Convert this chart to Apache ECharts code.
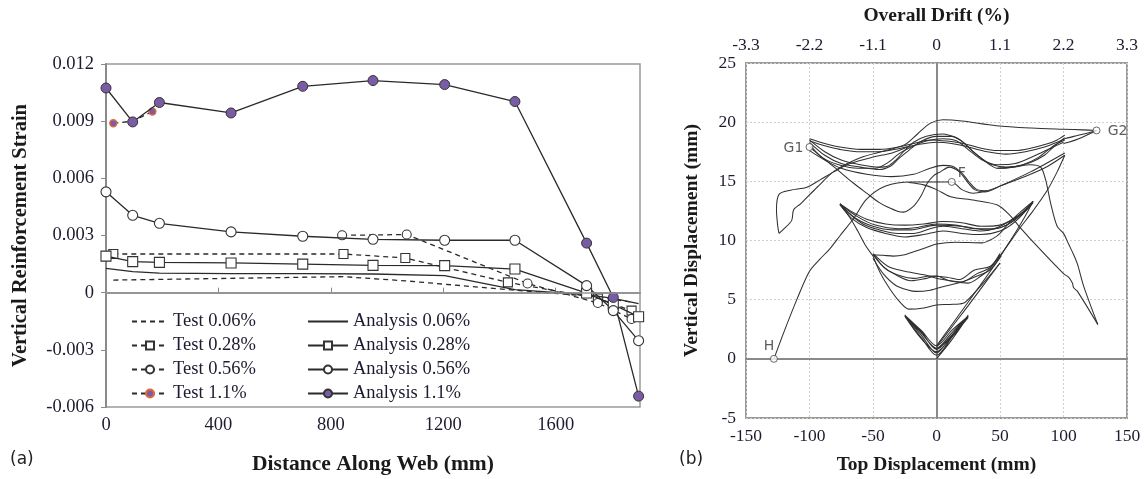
<!DOCTYPE html>
<html>
<head>
<meta charset="utf-8">
<script src="https://cdn.jsdelivr.net/npm/echarts@6/dist/echarts.min.js"></script>
<style>
  html, body { margin: 0; padding: 0; background: #fff; }
  #chart { width: 1148px; height: 479px; }
</style>
</head>
<body>
<div id="chart"></div>
<script>
// ---------- (a) strain along the web ----------
const gaugeDistance = [0, 95, 190, 445, 700, 950, 1205, 1455, 1710, 1805, 1895];
const analysis006 = [0.00127, 0.00110, 0.00103, 0.00100, 0.00100, 0.00098, 0.00089, 0.00016, -0.00010, -0.00030, -0.00058];
const analysis028 = [0.00192, 0.00163, 0.00159, 0.00156, 0.00150, 0.00143, 0.00142, 0.00124, -0.00002, -0.00063, -0.00126];
const analysis056 = [0.00529, 0.00406, 0.00364, 0.00319, 0.00296, 0.00280, 0.00275, 0.00275, 0.00037, -0.00094, -0.00252];
const analysis110 = [0.01074, 0.00896, 0.00998, 0.00943, 0.01083, 0.01113, 0.01092, 0.01003, 0.00260, -0.00025, -0.00543];

const testDistance006 = [26, 845, 1065, 1430, 1750, 1870];
const test006 = [0.00066, 0.00084, 0.00062, 0.00016, -0.00022, -0.00050];
const testDistance028 = [26, 845, 1065, 1430, 1750, 1870];
const test028 = [0.00203, 0.00203, 0.00182, 0.00054, -0.00030, -0.00094];
const testDistance056 = [840, 1070, 1500, 1750, 1870];
const test056 = [0.00301, 0.00305, 0.00048, -0.00054, -0.00138];
const testDistance110 = [26, 95, 165];
const test110 = [0.00889, 0.00900, 0.00951];

// ---------- (b) vertical vs top displacement (mm) ----------
const cycles25 = [[0,0],[12,1.6],[25,3.6],[12,2.0],[0,0.5],[-12,2.0],[-25,3.7],[-12,2.2],[0,0.9],[12,2.2],[25,3.6],[12,2.4],[0,1.1],[-12,2.4],[-25,3.7],[-12,2.3],[0,0.8],[12,2.0],[25,3.5],[12,1.8],[0,0.3],[-12,1.8],[-25,3.6],[-12,1.7],[0,0.6],[12,1.9],[25,3.7]];
const rise50a = [[0,1.0],[25,4.5],[50,8.1]];
const rise50b = [[0,1.1],[25,4.8],[51,8.7]];
const loop50a = [[-50,8.7],[-44,7.2],[-36,5.8],[-28,4.7],[-22,4.2],[-10,4.3],[0,4.55],[10,4.6],[21,4.7],[30,5.6],[40,6.8],[50,8.1]];
const loop50b = [[-50,8.5],[-42,7.2],[-32,6.2],[-22,5.8],[-16,5.7],[-5,5.8],[5,6.1],[20,6.5],[32,7.0],[42,7.5],[50,8.6]];
const loop50c = [[-50,8.8],[-42,7.8],[-32,7.1],[-20,6.6],[-8,6.8],[0,7.0],[10,6.6],[25,6.4],[35,7.0],[42,7.6],[50,8.8]];
const loop50d = [[-50,8.9],[-40,7.6],[-28,7.0],[-18,6.8],[-5,7.0],[8,6.9],[18,6.7],[30,7.5],[42,7.8],[50,8.7]];
const loop50e = [[-49,8.8],[-38,7.8],[-25,7.4],[-10,7.1],[5,6.7],[20,6.5],[32,7.2],[42,7.7],[50,8.9]];
const upper50 = [[-50,8.8],[-42,8.75],[-34,8.68],[-25,8.8],[-18,9.05],[-8,9.4],[0,9.7],[15,9.85],[36,9.8],[45,10.2],[50,10.6],[58,11.6],[66,12.4],[76,13.3]];
const toLensLeft = [[-50,8.7],[-56,9.6],[-62,10.8],[-68,11.9],[-76,13.1]];
const toLensRight = [[50,8.6],[57,9.8],[64,11.0],[70,12.1],[76,13.3]];
const lensA = [[-76,13.1],[-68,12.2],[-58,11.4],[-45,10.9],[-30,10.6],[-18,10.6],[-5,11.0],[5,11.2],[20,11.0],[35,10.8],[48,11.1],[60,11.8],[68,12.4],[76,13.3]];
const lensB = [[-76,13.0],[-66,11.8],[-55,11.1],[-40,10.6],[-25,10.3],[-10,10.5],[5,10.8],[20,10.6],[35,10.5],[50,10.8],[62,11.6],[76,13.2]];
const lensC = [[-76,13.1],[-66,12.4],[-55,11.8],[-40,11.4],[-25,11.3],[-10,11.4],[5,11.6],[20,11.5],[35,11.2],[50,11.3],[62,11.9],[70,12.5],[76,13.3]];
const lensD = [[-75,13.0],[-62,12.0],[-48,11.3],[-30,11.0],[-15,11.1],[0,11.4],[15,11.3],[30,11.0],[45,11.0],[60,11.6],[76,13.2]];
const lensE = [[-76,13.1],[-64,11.9],[-50,11.2],[-35,10.9],[-20,10.9],[0,11.3],[20,11.2],[40,10.9],[55,11.3],[66,12.2],[76,13.3]];
const loop100a = [[-100,18.6],[-88,18.2],[-76,17.9],[-60,17.7],[-45,17.7],[-30,17.9],[-18,18.2],[-5,18.5],[8,18.4],[21,18.2],[35,17.8],[48,17.6],[62,17.6],[74,17.8],[88,18.2],[95,18.5],[101,18.9]];
const loop100b = [[-100,18.4],[-88,18.0],[-76,17.7],[-60,17.5],[-45,17.5],[-28,17.8],[-15,18.1],[0,18.3],[12,18.2],[25,17.9],[40,17.5],[55,17.3],[70,17.5],[85,17.9],[95,18.3],[101,18.6]];
const loop100c = [[-100,18.5],[-88,17.5],[-75,16.8],[-60,16.4],[-45,16.2],[-38,16.3],[-32,16.8],[-26,17.5],[-18,18.3],[-8,18.8],[5,19.0],[15,18.7],[22,18.2],[30,17.4],[37,16.8],[42,16.4],[48,16.1],[60,16.2],[74,16.6],[85,17.2],[92,17.9],[101,18.7]];
const loop100d = [[-100,18.3],[-88,17.2],[-75,16.5],[-60,16.2],[-45,16.0],[-36,16.3],[-30,16.9],[-22,17.6],[-12,18.4],[0,18.8],[12,18.8],[20,18.4],[28,17.6],[36,16.9],[44,16.4],[55,16.2],[68,16.4],[80,17.0],[92,18.0],[101,18.5]];
const loop100e = [[-99,18.0],[-90,17.0],[-77,16.4],[-62,16.1],[-48,16.1],[-38,16.6],[-30,17.3],[-20,17.9],[-8,18.4],[5,18.6],[16,18.4],[26,17.6],[36,16.8],[48,16.4],[62,16.5],[76,17.1],[90,17.8],[100,18.3]];
const pathG1 = [[-100,17.9],[-92,17.2],[-84,16.5],[-76,15.8],[-66,14.9],[-55,14.0],[-45,13.2],[-39,12.85],[-30,12.45],[-26,12.4],[-18,12.9],[-12,13.8],[-7.5,14.8],[-2,15.5],[3,15.8],[10,16.2],[18,15.8],[24,15.0],[30,14.3],[38,14.1],[50,14.6],[74,15.8],[101,17.4]];
const pathMid = [[-100,17.6],[-88,16.8],[-75,16.1],[-55,15.6],[-35,15.4],[-18,15.6],[-5,16.1],[5,16.35],[12,16.3],[20,15.7],[26,14.9],[32,14.3],[40,14.2]];
const pathH = [[-128,0],[-120,2.3],[-110,5.0],[-100,7.4],[-92,8.4],[-84,9.3],[-76,10.4],[-65,11.9],[-55,13.5],[-40,14.6],[-20,14.95],[0,14.95],[12,14.95],[20,14.3],[29,14.0],[40,14.2],[55,14.8],[74,15.6],[88,16.3],[101,17.2]];
const pathA = [[-22,14.9],[-10,14.7],[0,14.3],[11,13.7],[30,13.4],[48,13.0],[58,12.1],[65,11.2],[82,9.2],[100,7.2],[104,6.9],[107,6.4],[108,6.0],[111,5.7],[127,2.9]];
const pathSteep = [[48,16.1],[60,16.2],[74,16.4],[82,16.2],[86,15.1],[90,13.1],[95,11.2],[100,10.6],[104,9.7],[108,8.8],[111,8.0],[116,6.1],[127,2.9]];
const pathRise = [[50,8.7],[60,10.2],[66,11.1],[76,12.5],[87,14.2],[95,15.8],[101,17.2]];
const pathTop = [[-124,10.6],[-120,11.0],[-114,11.7],[-112.5,12.6],[-107,13.1],[-94,14.5],[-80,15.9],[-60,17.0],[-40,17.6],[-25,18.1],[-15,19.0],[-5,19.9],[5,20.2],[20,20.1],[47,19.7],[75,19.5],[100,19.4],[115,19.35],[126,19.3]];
const pathHook = [[-23,17.9],[-35,17.4],[-50,17.05],[-68,16.5],[-81,15.8],[-92,15.1],[-102,14.5],[-115,14.25],[-124,13.9],[-126,12.6],[-125,11.2],[-124,10.6]];
const backG2a = [[126,19.3],[116,19.0],[108,18.8],[101,18.6]];
const backG2b = [[126,19.3],[112,18.6],[104,18.3],[100,18.2]];
const namedPoints = [
  { name: 'G1', value: [-100, 17.9], offset: [-16, 1] },
  { name: 'G2', value: [126, 19.3], offset: [21, 1] },
  { name: 'F', value: [12, 14.95], offset: [10, -9] },
  { name: 'H', value: [-128, 0], offset: [-5, -12] }
];

const serif = "'Liberation Serif', 'Times New Roman', serif";
const sans = "'DejaVu Sans', 'Noto Sans', sans-serif";
const labelColor = '#1c1c30';
const purple = '#7a5ca6';

function zip(xs, ys) { return xs.map((x, i) => [x, ys[i]]); }

function strainSeries(name, xs, ys, dashed, symbol, size, itemStyle) {
  return {
    name, type: 'line', xAxisIndex: 0, yAxisIndex: 0,
    data: zip(xs, ys),
    symbol: symbol || 'none', symbolSize: size || 0, showSymbol: !!symbol,
    lineStyle: { color: '#2a2a2a', width: 1.3, type: dashed ? [5, 4] : 'solid' },
    itemStyle: itemStyle || { color: '#fff', borderColor: '#333', borderWidth: 1.1 },
    emphasis: { disabled: true }, animation: false, z: dashed ? 3 : 4
  };
}

const strainSeriesList = [
  strainSeries('Test 0.06%', testDistance006, test006, true),
  strainSeries('Test 0.28%', testDistance028, test028, true, 'rect', 9),
  strainSeries('Test 0.56%', testDistance056, test056, true, 'circle', 9),
  strainSeries('Test 1.1%', testDistance110, test110, true, 'circle', 7,
    { color: purple, borderColor: '#e06a3c', borderWidth: 1.4 }),
  Object.assign(strainSeries('Analysis 0.06%', gaugeDistance, analysis006, false), {
    markLine: {
      silent: true, symbol: 'none', label: { show: false }, animation: false,
      lineStyle: { color: '#999', width: 1.5, type: 'solid' },
      data: [{ yAxis: 0 }]
    }
  }),
  strainSeries('Analysis 0.28%', gaugeDistance, analysis028, false, 'rect', 10),
  strainSeries('Analysis 0.56%', gaugeDistance, analysis056, false, 'circle', 10),
  strainSeries('Analysis 1.1%', gaugeDistance, analysis110, false, 'circle', 10,
    { color: purple, borderColor: '#333', borderWidth: 1 })
];

const hysteresis = [cycles25, rise50a, rise50b, loop50a, loop50b, loop50c, loop50d, loop50e, upper50,
  toLensLeft, toLensRight, lensA, lensB, lensC, lensD, lensE,
  loop100a, loop100b, loop100c, loop100d, loop100e,
  pathG1, pathMid, pathH, pathA, pathSteep, pathRise, pathTop, pathHook, backG2a, backG2b];

const hysteresisSeries = hysteresis.map(d => ({
  type: 'line', xAxisIndex: 1, yAxisIndex: 1, data: d,
  showSymbol: false, symbol: 'none', smooth: 0.3,
  lineStyle: { color: '#303030', width: 1.05 },
  emphasis: { disabled: true }, silent: true, animation: false
}));

const pointSeries = {
  type: 'scatter', xAxisIndex: 1, yAxisIndex: 1,
  data: namedPoints.map(p => ({ name: p.name, value: p.value, label: { offset: p.offset } })),
  symbol: 'circle', symbolSize: 7,
  itemStyle: { color: '#fff', borderColor: '#444', borderWidth: 1 },
  label: { show: true, position: 'inside', formatter: '{b}', fontFamily: sans, fontSize: 14, color: '#333' },
  z: 10, silent: true, animation: false
};

const chart = echarts.init(document.getElementById('chart'), null, { renderer: 'canvas' });

const nameStyle = size => ({ fontFamily: serif, fontWeight: 'bold', fontSize: size, color: '#1a1a1a' });
const tickStyle = size => ({ fontFamily: serif, fontSize: size, color: labelColor });
const plainLegendLine = { color: 'transparent', borderColor: 'transparent', borderWidth: 0 };

chart.setOption({
  backgroundColor: '#fff',
  animation: false,
  grid: [
    { left: 106, top: 64, width: 534, height: 343, outerBoundsMode: 'none', show: true, borderColor: '#9a9a9a', borderWidth: 1.5, backgroundColor: 'transparent' },
    { left: 746, top: 63, width: 381, height: 355, outerBoundsMode: 'none', show: true, borderColor: '#9a9a9a', borderWidth: 2, backgroundColor: 'transparent' }
  ],
  xAxis: [
    {
      gridIndex: 0, type: 'value', min: 0, max: 1900, interval: 400,
      name: 'Distance Along Web (mm)', nameLocation: 'middle', nameGap: 46, nameTextStyle: nameStyle(21.5),
      axisLine: { show: true, lineStyle: { color: '#8a8a8a', width: 2 } },
      axisTick: { show: true, inside: true, length: 5, lineStyle: { color: '#8a8a8a' } },
      axisLabel: Object.assign({ margin: 9, showMaxLabel: false, formatter: v => String(v) }, tickStyle(18.5)),
      splitLine: { show: false }
    },
    {
      gridIndex: 1, type: 'value', min: -150, max: 150, interval: 50,
      name: 'Top Displacement (mm)', nameLocation: 'middle', nameGap: 37, nameTextStyle: nameStyle(19.5),
      axisLine: { show: true, lineStyle: { color: '#8a8a8a', width: 2 } },
      axisTick: { show: false },
      axisLabel: Object.assign({ margin: 9, formatter: v => String(v) }, tickStyle(17.5)),
      splitLine: { show: true, lineStyle: { color: '#cfcfcf', type: [2, 2], width: 1 } }
    },
    {
      gridIndex: 1, type: 'value', position: 'top', min: -150, max: 150, interval: 50,
      name: 'Overall Drift (%)', nameLocation: 'middle', nameGap: 37, nameTextStyle: nameStyle(19.5),
      axisLine: { show: false }, axisTick: { show: false },
      axisLabel: Object.assign({
        margin: 9,
        formatter: v => { const d = v * 3.3 / 150; return Math.abs(d) < 1e-9 ? '0' : d.toFixed(1); }
      }, tickStyle(17.5)),
      splitLine: { show: false }
    }
  ],
  yAxis: [
    {
      gridIndex: 0, type: 'value', min: -0.006, max: 0.012, interval: 0.003,
      name: 'Vertical Reinforcement Strain', nameLocation: 'middle', nameGap: 75, nameTextStyle: nameStyle(20.5),
      axisLine: { show: true, lineStyle: { color: '#8a8a8a', width: 2 } },
      axisTick: { show: true, inside: false, length: 5, lineStyle: { color: '#8a8a8a' } },
      axisLabel: Object.assign({
        margin: 12,
        formatter: v => Math.abs(v) < 1e-9 ? '0' : v.toFixed(3)
      }, tickStyle(18.5)),
      splitLine: { show: false }
    },
    {
      gridIndex: 1, type: 'value', min: -5, max: 25, interval: 5,
      name: 'Vertical Displacement (mm)', nameLocation: 'middle', nameGap: 44, nameTextStyle: nameStyle(19.5),
      axisLine: { show: true, lineStyle: { color: '#8a8a8a', width: 2 } },
      axisTick: { show: false },
      axisLabel: Object.assign({ margin: 10 }, tickStyle(17.5)),
      splitLine: { show: true, lineStyle: { color: '#cfcfcf', type: [2, 2], width: 1 } }
    }
  ],
  legend: [
    {
      data: [
        { name: 'Test 0.06%', itemStyle: plainLegendLine },
        'Test 0.28%', 'Test 0.56%', 'Test 1.1%'
      ],
      orient: 'vertical', left: 131, top: 312, padding: 0,
      itemWidth: 36, itemHeight: 10, itemGap: 5,
      textStyle: { fontFamily: serif, fontSize: 18.5, lineHeight: 18, color: labelColor },
      selectedMode: false
    },
    {
      data: [
        { name: 'Analysis 0.06%', itemStyle: plainLegendLine },
        'Analysis 0.28%', 'Analysis 0.56%', 'Analysis 1.1%'
      ],
      orient: 'vertical', left: 307, top: 312, padding: 0,
      itemWidth: 40, itemHeight: 10, itemGap: 5,
      textStyle: { fontFamily: serif, fontSize: 18.5, lineHeight: 18, color: labelColor },
      selectedMode: false
    }
  ],
  graphic: [
    { type: 'text', left: 10, top: 451, style: { text: '(a)', fontFamily: sans, fontSize: 17, fill: '#222' } },
    { type: 'text', left: 679, top: 451, style: { text: '(b)', fontFamily: sans, fontSize: 17, fill: '#222' } }
  ],
  series: strainSeriesList.concat(hysteresisSeries, [pointSeries])
});
</script>
</body>
</html>
